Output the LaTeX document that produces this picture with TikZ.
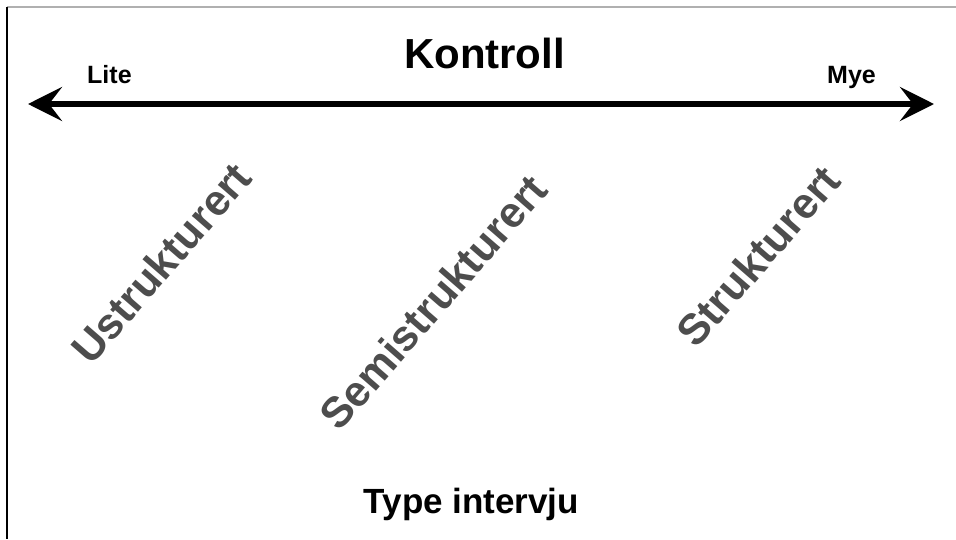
\documentclass[tikz,border=0pt]{standalone}
\usepackage{fontspec}
\setmainfont{Liberation Sans}
\usetikzlibrary{arrows.meta}
\definecolor{slanttext}{HTML}{4D4D4D}
\definecolor{framegray}{HTML}{B0B0B0}
\tikzset{
  label/.style={inner sep=0pt, font=\bfseries\fontsize{#1}{#1}\selectfont},
  kind/.style={inner sep=0pt, rotate=49, text=slanttext,
               font=\bfseries\fontsize{43}{43}\selectfont},
  scale arrow/.style={line width=6pt,
    {Stealth[length=34pt,width=34pt,inset=13pt]}-{Stealth[length=34pt,width=34pt,inset=13pt]}}
}
\begin{document}
\begin{tikzpicture}[x=1pt,y=-1pt]
  \useasboundingbox (0,0) rectangle (956,539);
  % frame edges
  \draw[framegray, line width=1.5pt] (7,7) -- (956,7);
  \draw[black, line width=1.5pt] (7,7) -- (7,539);
  % control axis
  \coordinate (low) at (28,104);
  \coordinate (high) at (934,104);
  \draw[scale arrow] (low) -- (high);
  \node[label=42, anchor=base] (title) at (484.5,68) {Kontroll};
  \node[label=25, anchor=base west] (lite) at (87,83) {Lite};
  \node[label=25, anchor=base west] (mye) at (827,83) {Mye};
  % interview types
  \node[kind] (ustr) at (161,263) {Ustrukturert};
  \node[kind] (semi) at (433,302) {Semistrukturert};
  \node[kind] (str) at (758,256) {Strukturert};
  \node[label=35, anchor=base] (type) at (471.5,513) {Type intervju};
\end{tikzpicture}
\end{document}
